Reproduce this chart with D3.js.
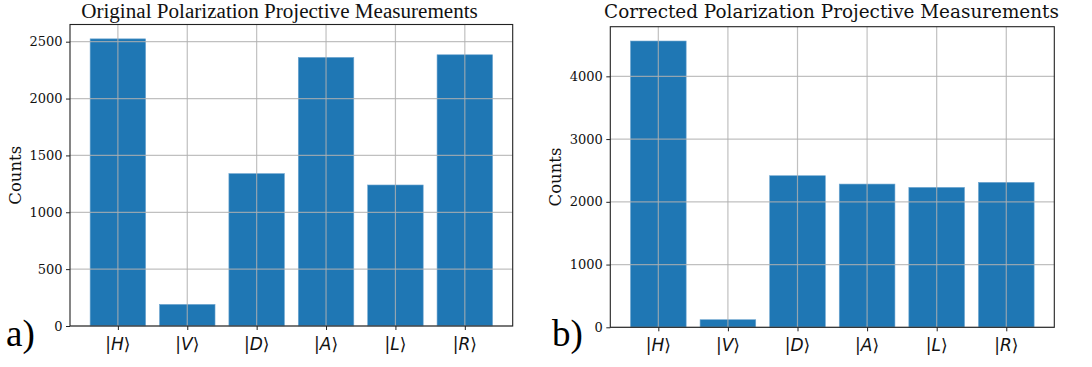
<!DOCTYPE html>
<html>
<head>
<meta charset="utf-8">
<script src="https://cdn.jsdelivr.net/npm/d3@7"></script>
<style>
  body { margin: 0; background: #fff; }
  svg { display: block; }
</style>
</head>
<body>
<div id="chart"></div>
<script>
var width = 1092;
var height = 367;

// polarization states and measured counts
var states = ["H", "V", "D", "A", "L", "R"];
var originalCounts = [2525, 190, 1340, 2362, 1240, 2385];
var correctedCounts = [4563, 121, 2416, 2283, 2230, 2310];
var originalTicks = [0, 500, 1000, 1500, 2000, 2500];
var correctedTicks = [0, 1000, 2000, 3000, 4000];

var svg = d3.select("#chart")
    .append("svg")
    .attr("width", width)
    .attr("height", height);

function drawPanel(p) {
  var g = svg.append("g");

  // matplotlib-like limits: bars of width 0.8, 5% margins
  var x = d3.scaleLinear()
      .domain([-0.69, states.length - 1 + 0.69])
      .range([p.left, p.right]);
  var y = d3.scaleLinear()
      .domain([0, d3.max(p.values) * 1.05])
      .range([p.bottom, p.top]);

  g.selectAll(".bar")
    .data(p.values)
    .enter().append("rect")
      .attr("class", "bar")
      .attr("x", function(d, i) { return x(i - 0.4); })
      .attr("width", function(d, i) { return x(i + 0.4) - x(i - 0.4); })
      .attr("y", function(d) { return y(d); })
      .attr("height", function(d) { return y(0) - y(d); })
      .attr("fill", "#1f77b4")
      .attr("stroke", "#6fa6d0")
      .attr("stroke-width", 0.6);

  // grid on top of bars
  var grid = g.append("g").attr("stroke", "#b0b0b0").attr("stroke-opacity", 0.8).attr("stroke-width", 1.2);
  grid.selectAll(".gx")
    .data(d3.range(states.length))
    .enter().append("line")
      .attr("x1", function(d) { return x(d); })
      .attr("x2", function(d) { return x(d); })
      .attr("y1", p.top)
      .attr("y2", p.bottom);
  grid.selectAll(".gy")
    .data(p.ticks)
    .enter().append("line")
      .attr("x1", p.left)
      .attr("x2", p.right)
      .attr("y1", function(d) { return y(d); })
      .attr("y2", function(d) { return y(d); });

  // y axis
  var yAxis = g.append("g")
      .attr("transform", "translate(" + p.left + ",0)")
      .call(d3.axisLeft(y).tickValues(p.ticks).tickSize(4).tickPadding(3.5).tickFormat(d3.format("d")));
  yAxis.select(".domain").remove();
  yAxis.selectAll("line").attr("stroke", "#222").attr("stroke-width", 1);
  yAxis.selectAll("text")
      .attr("font-family", "DejaVu Serif")
      .attr("font-size", 13)
      .attr("fill", "#111");

  // x axis with ket labels
  var xAxis = g.append("g")
      .attr("transform", "translate(0," + p.bottom + ")")
      .call(d3.axisBottom(x).tickValues(d3.range(states.length)).tickSize(4).tickFormat(""));
  xAxis.select(".domain").remove();
  xAxis.selectAll("line").attr("stroke", "#222").attr("stroke-width", 1);

  var kets = g.selectAll(".ket")
    .data(states)
    .enter().append("text")
      .attr("class", "ket")
      .attr("x", function(d, i) { return x(i); })
      .attr("y", p.bottom + 24)
      .attr("text-anchor", "middle")
      .attr("font-family", "DejaVu Sans")
      .attr("font-size", 17)
      .attr("fill", "#111");
  kets.append("tspan").text("|");
  kets.append("tspan").attr("font-style", "italic").text(function(d) { return d; });
  kets.append("tspan").text("\u27E9");

  // frame
  g.append("rect")
      .attr("x", p.left)
      .attr("y", p.top)
      .attr("width", p.right - p.left)
      .attr("height", p.bottom - p.top)
      .attr("fill", "none")
      .attr("stroke", "#222")
      .attr("stroke-width", 1.1);

  g.append("text")
      .attr("x", p.titleX)
      .attr("y", 18)
      .attr("text-anchor", "middle")
      .attr("font-family", p.titleFont)
      .attr("font-size", p.titleSize)
      .attr("fill", "#111")
      .text(p.title);

  g.append("text")
      .attr("transform", "translate(" + p.labelX + "," + (p.top + p.bottom) / 2 + ") rotate(-90)")
      .attr("text-anchor", "middle")
      .attr("font-family", "DejaVu Serif")
      .attr("font-size", 16.5)
      .attr("fill", "#111")
      .text("Counts");

  g.append("text")
      .attr("x", p.tagX)
      .attr("y", 345.5)
      .attr("font-family", "Liberation Serif")
      .attr("font-size", 37)
      .attr("fill", "#000")
      .text(p.tag);
}

drawPanel({
  values: originalCounts, ticks: originalTicks,
  left: 70, right: 512.7, top: 24.5, bottom: 326,
  title: "Original Polarization Projective Measurements",
  titleFont: "Liberation Serif", titleSize: 21.1, titleX: 279.5,
  labelX: 21, tag: "a)", tagX: 6
});

drawPanel({
  values: correctedCounts, ticks: correctedTicks,
  left: 610.3, right: 1054.3, top: 26.7, bottom: 327.3,
  title: "Corrected Polarization Projective Measurements",
  titleFont: "DejaVu Serif", titleSize: 18.4, titleX: 831.5,
  labelX: 561, tag: "b)", tagX: 552
});
</script>
</body>
</html>
